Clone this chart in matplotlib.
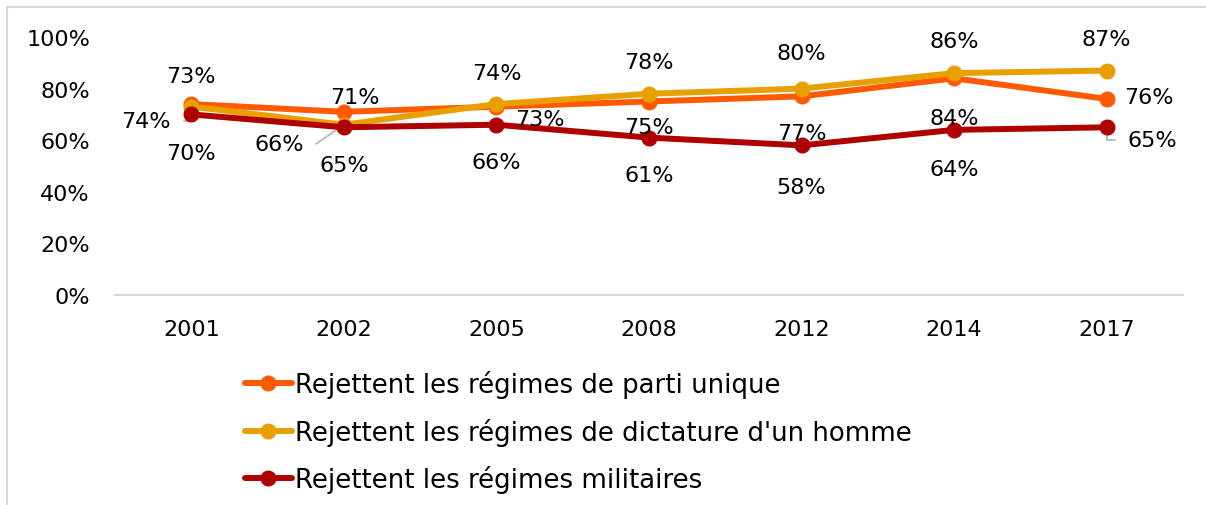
import numpy as np
import matplotlib
matplotlib.use('Agg')
import matplotlib.pyplot as plt
from matplotlib.patches import Rectangle

#%% Data
years = ['2001', '2002', '2005', '2008', '2012', '2014', '2017']
parti_unique = [74, 71, 73, 75, 77, 84, 76]
dictature = [73, 66, 74, 78, 80, 86, 87]
militaires = [70, 65, 66, 61, 58, 64, 65]
series_names = ['Rejettent les régimes de parti unique',
                "Rejettent les régimes de dictature d'un homme",
                'Rejettent les régimes militaires']
yticks = [0, 20, 40, 60, 80, 100]

#%% Style
colors = ['#FF5A00', '#E8A000', '#AE0000']
# label offsets from each point, in pixels (x right, y up)
off_parti = [(-45, -16.5), (11, 14.5), (43, -12.5), (0, -26), (0, -36.5), (0, -39.5), (42, 1.5)]
off_dict = [(0, 30.5), (-65, -19.5), (0, 31.5), (0, 31.5), (0, 36), (0, 32.5), (0, 32)]
off_mil = [(0, -38.5), (0, -37.5), (0, -37.5), (0, -37.5), (0, -41.5), (0, -39.5), (46, -12.5)]
leader_col = '#BFBFBF'
fs = 16
fs_leg = 18.7

plt.rcParams['font.family'] = ['DejaVu Sans']

W, H = 1206, 506
fig = plt.figure(figsize=(W / 100, H / 100), dpi=100)
ax = fig.add_axes([115 / W, 1 - 296 / H, (1183 - 115) / W, (296 - 38) / H])

# outer border of the chart area
fig.patches.append(Rectangle((7 / W, -0.1), 1.2, 1 - 8 / H + 0.1,
                             transform=fig.transFigure, fill=False,
                             edgecolor='#D9D9D9', lw=1.5))

x = np.arange(len(years))
all_vals = [parti_unique, dictature, militaires]
all_offs = [off_parti, off_dict, off_mil]
for vals, name, c in zip(all_vals, series_names, colors):
    ax.plot(x, vals, '-o', color=c, lw=4.3, ms=10.5, label=name,
            solid_capstyle='round', zorder=2)

# data labels
for k, (vals, offs) in enumerate(zip(all_vals, all_offs)):
    for i, v in enumerate(vals):
        ax.annotate('%d%%' % v, xy=(x[i], v), xytext=offs[i],
                    textcoords='offset pixels', ha='center', va='center',
                    fontsize=fs, color='#000000', zorder=5,
                    annotation_clip=False)

# leader lines for labels moved away from their points
leaders = [(0, 0, (1, 0.5), 'angle,angleA=0,angleB=90'),
           (1, 1, (1, 0.5), 'arc,angleA=0,armA=12,angleB=0,armB=0,rad=0'),
           (2, 6, (0, 0.5), 'angle,angleA=0,angleB=90')]
for k, i, rp, cs in leaders:
    v = all_vals[k][i]
    ax.annotate('%d%%' % v, xy=(x[i], v), xytext=all_offs[k][i],
                textcoords='offset pixels', ha='center', va='center',
                fontsize=fs, color='none', zorder=1.5,
                arrowprops=dict(arrowstyle='-', color=leader_col, lw=1.5,
                                relpos=rp, shrinkA=7, shrinkB=0,
                                connectionstyle=cs))

ax.set_xlim(-0.5, len(years) - 0.5)
ax.set_ylim(0, 100)
ax.set_xticks(x)
ax.set_xticklabels(years)
ax.set_yticks(yticks)
ax.set_yticklabels(['%d%%' % t for t in yticks])
ax.tick_params(length=0, labelsize=fs, colors='#000000')
ax.tick_params(axis='x', pad=17)
ax.tick_params(axis='y', pad=18)
for s in ['top', 'right', 'left']:
    ax.spines[s].set_visible(False)
ax.spines['bottom'].set_color('#D9D9D9')
ax.spines['bottom'].set_linewidth(1.5)

fig.legend(loc='upper left', bbox_to_anchor=(245 / W, 1 - 371 / H),
           frameon=False, fontsize=fs_leg, handlelength=1.8, handletextpad=0.12,
           labelspacing=0.76, borderpad=0, borderaxespad=0)

fig.savefig('out.png', dpi=100)
